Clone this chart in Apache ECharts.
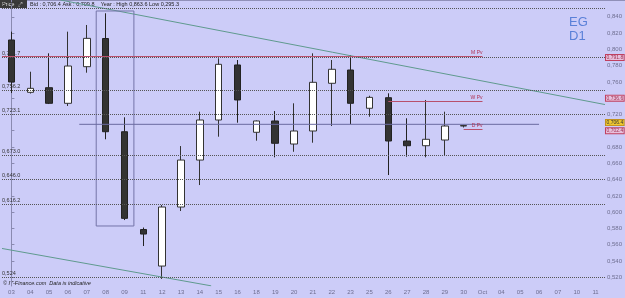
<!DOCTYPE html>
<html>
<head>
<meta charset="utf-8">
<script src="https://cdn.jsdelivr.net/npm/echarts@6/dist/echarts.min.js"></script>
<style>
  html, body { margin: 0; padding: 0; background: #ccccf8; }
  #chart { width: 625px; height: 298px; }
</style>
</head>
<body>
<div id="chart"></div>
<script>
// trading days shown on the x axis
const dates = ['03', '04', '05', '06', '07', '08', '09', '11', '12', '13', '14', '15', '16', '18', '19', '20',
  '21', '22', '23', '25', '26', '27', '28', '29', '30', 'Oct', '04', '05', '06', '07', '10', '11']

// candles: [open, close, low, high]
const candles = [
  [0.8115, 0.7599, 0.7463, 0.8217],
  [0.7472, 0.7521, 0.7457, 0.7725],
  [0.7529, 0.7337, 0.7328, 0.7951],
  [0.7337, 0.7795, 0.7304, 0.8217],
  [0.7787, 0.8135, 0.7713, 0.8299],
  [0.8133, 0.6988, 0.6895, 0.8443],
  [0.6988, 0.5924, 0.5903, 0.7165],
  [0.5787, 0.5731, 0.5584, 0.5811],
  [0.5338, 0.6063, 0.5180, 0.6088],
  [0.6063, 0.6640, 0.6014, 0.6812],
  [0.6640, 0.7132, 0.6333, 0.7234],
  [0.7132, 0.7816, 0.6927, 0.7890],
  [0.7808, 0.7378, 0.7099, 0.7869],
  [0.6981, 0.7120, 0.6878, 0.7126],
  [0.7120, 0.6846, 0.6674, 0.7242],
  [0.6837, 0.6997, 0.6742, 0.7337],
  [0.6997, 0.7595, 0.6853, 0.7951],
  [0.7583, 0.7755, 0.7058, 0.7869],
  [0.7746, 0.7337, 0.7083, 0.7930],
  [0.7276, 0.7410, 0.7172, 0.7430],
  [0.7406, 0.6874, 0.6456, 0.7460],
  [0.6874, 0.6816, 0.6681, 0.7153],
  [0.6816, 0.6895, 0.6674, 0.7378],
  [0.6886, 0.7058, 0.6702, 0.7234],
  [0.7058, 0.7064, 0.7040, 0.7072]
]

// right axis ticks
const yTicks = [0.52, 0.54, 0.56, 0.58, 0.60, 0.62, 0.64, 0.66, 0.68, 0.70, 0.72, 0.74, 0.76, 0.78, 0.80, 0.82, 0.84]
const yMin = 0.5093
const yMax = 0.8606

// dotted levels and their left labels
const levelValues = [0.8471, 0.7918, 0.7488, 0.7218, 0.6677, 0.6358, 0.6051, 0.5240]
const levelLabels = ['0,847.1', '0,791.7', '0,756.2', '0,723.1', '0,673.0', '0,646.0', '0,616.2', '0,524']

// pivots: [name, value, fromIndex, toIndex]
const pivots = [['M Pv', 0.7918, -0.5, 25], ['W Pv', 0.7366, 20, 25], ['D Pv', 0.7024, 24, 25]]

// boxes on the right axis
const boxValues = [0.7918, 0.7366, 0.7064, 0.7024]
const boxLabels = ['0,791.8', '0,736.6', '0,706.4', '0,702.4']

// drawn objects in [index, price]
const trendUpper = [[2.6, 0.8606], [31.5, 0.7322]]
const trendLower = [[-0.5, 0.5554], [10.6, 0.5095]]
const boxRect = [[4.5, 0.8471], [6.5, 0.8471], [6.5, 0.5830], [4.5, 0.5830], [4.5, 0.8471]]
const hLine = [[3.6, 0.7079], [28, 0.7079]]

const fmt = v => v.toFixed(3).replace('.', ',')
const font = 'Liberation Sans, Arial, sans-serif'

const chart = echarts.init(document.getElementById('chart'))

const option = {
  backgroundColor: '#ccccf8',
  animation: false,
  textStyle: { fontFamily: font },
  grid: { left: 2, right: 20, top: 0, bottom: 12 },
  graphic: [
    { type: 'line', shape: { x1: 0, y1: 0.5, x2: 625, y2: 0.5 }, style: { stroke: '#9090b8', lineWidth: 1 } },
    { type: 'rect', shape: { x: 0, y: 0, width: 27, height: 8 }, style: { fill: '#3a3a3a' } },
    { type: 'text', left: 2, top: 1, style: { text: 'Price  ⤢', fill: '#fff', fontSize: 5.5, fontFamily: font } },
    { type: 'text', left: 30, top: 1, style: { text: 'Bid : 0,706.4 Ask : 0,709.8    Year : High 0,863.6 Low 0,295.3', fill: '#222', fontSize: 5.5, fontFamily: font } },
    { type: 'text', left: 3, top: 280, style: { text: '© IT-Finance.com  Data is indicative', fill: '#222', fontSize: 5.5, fontStyle: 'italic', fontFamily: font } },
    { type: 'text', left: 569, top: 15, style: { text: 'EG\nD1', fill: '#5a80d8', fontSize: 13, lineHeight: 14, fontFamily: font } }
  ],
  xAxis: [
    {
      type: 'category',
      data: dates,
      boundaryGap: true,
      axisLine: { show: false },
      axisTick: { alignWithLabel: true, length: 2, lineStyle: { color: '#8a8ab0' } },
      axisLabel: { fontSize: 6, color: '#6e6e90', margin: 3, interval: 0 }
    },
    { type: 'value', min: -0.5, max: 31.5, show: false }
  ],
  yAxis: {
    type: 'value',
    position: 'right',
    min: yMin,
    max: yMax,
    splitLine: { show: false },
    axisLine: { show: true, lineStyle: { color: '#8a8ab0' } },
    axisTick: { show: true, length: 3, customValues: yTicks, lineStyle: { color: '#8a8ab0' } },
    axisLabel: { customValues: yTicks, fontSize: 6, color: '#6e6e90', margin: 2, formatter: fmt }
  },
  series: [
    {
      type: 'candlestick',
      data: candles,
      barWidth: 7,
      itemStyle: { color: '#ffffff', color0: '#333333', borderColor: '#333333', borderColor0: '#222222', borderWidth: 1 },
      markLine: {
        silent: true,
        symbol: ['none', 'none'],
        data: levelValues.map((v, i) => ({
          yAxis: v,
          lineStyle: { color: '#555', type: 'dotted', width: 1 },
          label: { show: true, position: 'insideStartTop', formatter: levelLabels[i], fontSize: 5.5, color: '#333', distance: [0, 1] }
        }))
      }
    },
    {
      // only carries the value boxes shown over the right axis
      type: 'line',
      data: [],
      markLine: {
        silent: true,
        symbol: ['none', 'none'],
        lineStyle: { color: 'rgba(0,0,0,0)', width: 0 },
        data: boxValues.map((v, i) => ({
          yAxis: v,
          label: {
            show: true,
            position: 'end',
            distance: 1,
            formatter: boxLabels[i],
            fontSize: 5,
            color: i === 2 ? '#333' : '#a03050',
            backgroundColor: i === 2 ? '#f0c830' : '#e8c0dc',
            borderColor: i === 2 ? '#c09020' : '#c04060',
            borderWidth: 1,
            padding: [0, 0.5]
          }
        }))
      }
    },
    {
      type: 'line',
      xAxisIndex: 1,
      data: trendUpper,
      symbol: 'none',
      lineStyle: { color: '#5f9a8e', width: 1 }
    },
    {
      type: 'line',
      xAxisIndex: 1,
      data: trendLower,
      symbol: 'none',
      lineStyle: { color: '#5f9a8e', width: 1 }
    },
    {
      type: 'line',
      xAxisIndex: 1,
      data: boxRect,
      symbol: 'none',
      lineStyle: { color: '#7474a8', width: 1 }
    },
    {
      type: 'line',
      xAxisIndex: 1,
      data: hLine,
      symbol: 'none',
      lineStyle: { color: '#6a6aa0', width: 1 },
      markLine: {
        silent: true,
        symbol: ['none', 'none'],
        data: pivots.map(p => [
          {
            coord: [p[2], p[1]],
            lineStyle: { color: '#b8506c', width: 1, type: 'solid' },
            label: { show: true, position: 'insideEndTop', formatter: p[0], fontSize: 5, color: '#b03050', distance: [0, 1] }
          },
          { coord: [p[3], p[1]] }
        ])
      }
    }
  ]
}

chart.setOption(option)
</script>
</body>
</html>
